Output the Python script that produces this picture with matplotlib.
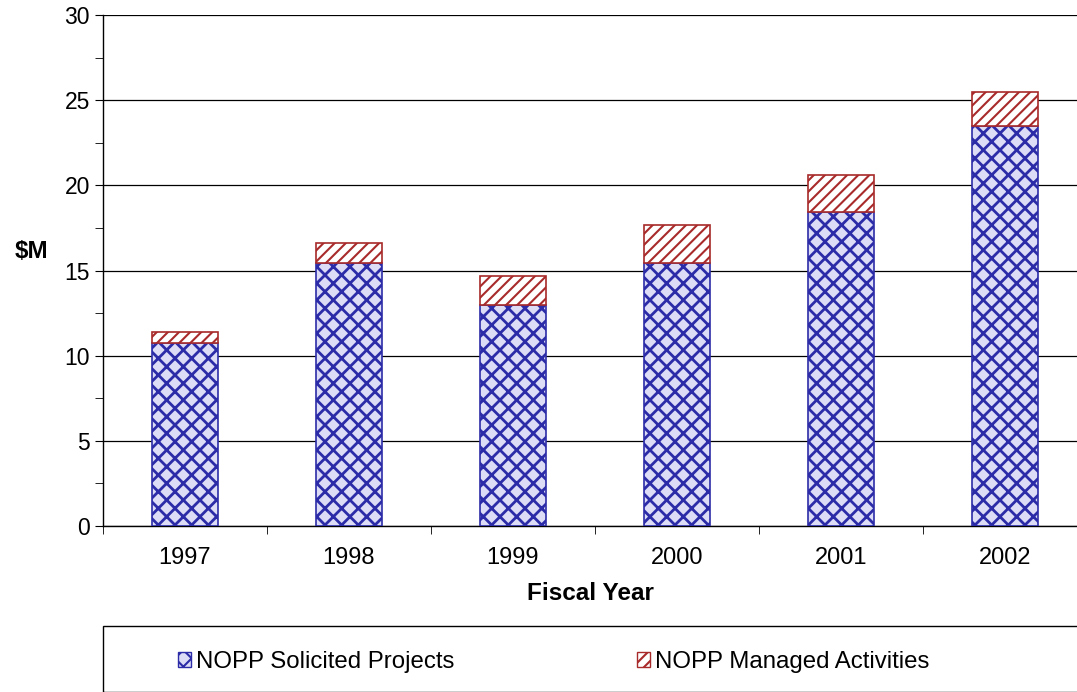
import numpy as np
import matplotlib as mpl

mpl.use('Agg')

import matplotlib.pyplot as plt
from matplotlib.patches import Rectangle, Patch

years = ['1997', '1998', '1999', '2000', '2001', '2002']
solicited = [10.75, 15.45, 13.0, 15.45, 18.45, 23.5]
managed = [0.65, 1.15, 1.7, 2.2, 2.15, 2.0]

plt.rcParams['font.family'] = ['Liberation Sans', 'DejaVu Sans']

fig = plt.figure(figsize=(10.77, 6.92), dpi=100)
W, H = 1077.0, 692.0
# plot area runs slightly past the right edge, as in the original
ax = fig.add_axes([103 / W, 1 - 526 / H, 984 / W, 511 / H])

x = np.arange(len(years))
blue_face = '#dcdcf6'
blue_edge = '#2c2ca8'
red_edge = '#a82a2a'

plt.rcParams['hatch.linewidth'] = 2.0
ax.bar(x, solicited, width=0.4, facecolor=blue_face, edgecolor=blue_edge,
       hatch='xx', linewidth=1.2, zorder=3)
blue_handle = Patch(facecolor=blue_face, edgecolor=blue_edge, hatch='xx',
                    label='NOPP Solicited Projects')
plt.rcParams['hatch.linewidth'] = 1.5
ax.bar(x, managed, width=0.4, bottom=solicited, facecolor='white',
       edgecolor=red_edge, hatch='///', linewidth=1.2, zorder=3)
red_handle = Patch(facecolor='white', edgecolor=red_edge, hatch='///',
                   label='NOPP Managed Activities')

ax.set_xlim(-0.5, len(years) - 0.5)
ax.set_ylim(0, 30)
ax.set_yticks(np.arange(0, 31, 5))
ax.set_yticks(np.arange(0, 30, 2.5), minor=True)
ax.yaxis.grid(True, color='black', linewidth=0.9, zorder=0)
ax.set_axisbelow(True)

ax.set_xticks(x)
ax.set_xticklabels(years)
ax.set_xticks(np.arange(-0.5, len(years), 1.0), minor=True)
ax.tick_params(axis='x', which='major', length=0, pad=15, labelsize=17)
ax.tick_params(axis='x', which='minor', length=6, direction='out')
ax.tick_params(axis='y', which='both', length=6, direction='out', labelsize=16.5)

for side in ['top', 'right']:
    ax.spines[side].set_visible(False)
ax.spines['left'].set_linewidth(1.0)
ax.spines['bottom'].set_linewidth(1.0)

ax.set_xlabel('Fiscal Year', fontsize=17.5, fontweight='bold')
ax.xaxis.set_label_coords((590 - 103) / 984, (526 - 582) / 511)
fig.text(31 / W, 1 - 252 / H, '$M', fontsize=17.5, fontweight='bold',
         ha='center', va='center')

# legend box at the bottom
fig.patches.append(Rectangle((103 / W, 0), 980 / W, 66 / H,
                             transform=fig.transFigure, fill=False,
                             edgecolor='black', linewidth=1.0))
fig.legend(handles=[blue_handle, red_handle], loc='center left',
           bbox_to_anchor=(168 / W, 1 - 662 / H),
           ncol=2, frameon=False, fontsize=17.3, handlelength=0.55, handleheight=0.55,
           handletextpad=0.2, columnspacing=7.6, borderaxespad=0)

fig.savefig('out.png', dpi=100)
